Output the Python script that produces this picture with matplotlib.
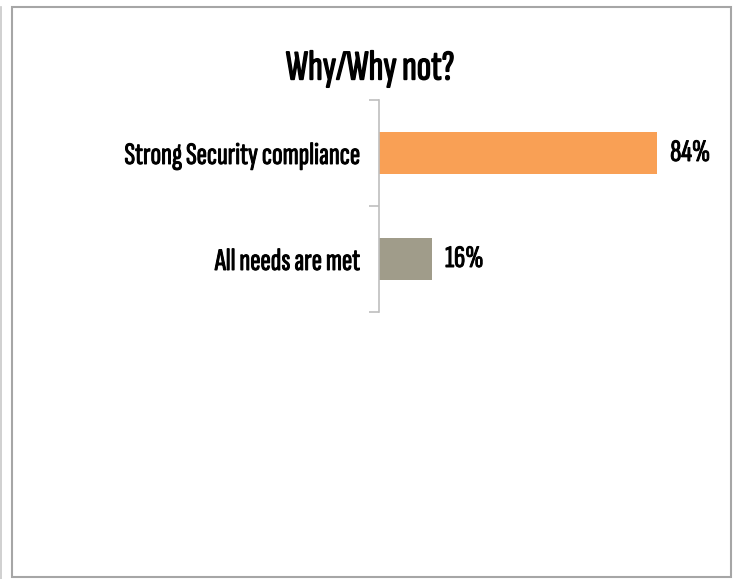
import matplotlib.pyplot as plt
import matplotlib.patheffects as pe
from matplotlib.patches import Rectangle
from matplotlib.lines import Line2D

plt.rcParams['font.family'] = ['Sofia Sans Extra Condensed', 'Asap Condensed',
                               'Liberation Sans', 'DejaVu Sans']

categories = ["Strong Security compliance", "All needs are met"]
values = [84, 16]
colors = ["#F9A055", "#A09C8A"]
title = "Why/Why not?"

# thicken the strokes of the condensed face a little
heavy = [pe.withStroke(linewidth=0.7, foreground="black")]
heavy_title = [pe.withStroke(linewidth=1.0, foreground="black")]

fig = plt.figure(figsize=(7.36, 5.79), dpi=100)
fig.patch.set_facecolor("white")

# outer frame of the chart area
W, H = 736, 579
fig.add_artist(Rectangle((12 / W, 1 - 577 / H), (731 - 12) / W, (577 - 7) / H,
                         transform=fig.transFigure, fill=False,
                         edgecolor="#A6A6A6", linewidth=1.5))
fig.add_artist(Line2D([0.5 / W, 0.5 / W], [0, 1 - 7 / H], transform=fig.transFigure,
                      color="#C8C8C8", linewidth=1.2))

ax = fig.add_axes([379 / W, 1 - 312 / H, (710 - 379) / W, (312 - 100) / H])
y = list(range(len(categories)))
ax.barh(y, values, height=0.4, color=colors)
ax.set_xlim(0, 100)
ax.set_ylim(1.5, -0.5)

for yi, v in zip(y, values):
    ax.text(v + 4, yi, f"{v}%", va="center", ha="left", fontsize=22.5,
            path_effects=heavy)

ax.set_yticks(y)
ax.set_yticklabels(categories, fontsize=22.5)
for lbl in ax.get_yticklabels():
    lbl.set_path_effects(heavy)
ax.tick_params(axis="y", which="major", length=0, pad=14)
ax.set_yticks([-0.5, 0.5, 1.5], minor=True)
ax.tick_params(axis="y", which="minor", length=7, color="#BFBFBF", width=1.2)
ax.set_xticks([])
for s in ["top", "right", "bottom"]:
    ax.spines[s].set_visible(False)
ax.spines["left"].set_color("#BFBFBF")
ax.spines["left"].set_linewidth(1.2)

fig.text(370 / W, 1 - 69 / H, title, ha="center", va="center", fontsize=30.5,
         path_effects=heavy_title)

fig.savefig("out.png", dpi=100)
